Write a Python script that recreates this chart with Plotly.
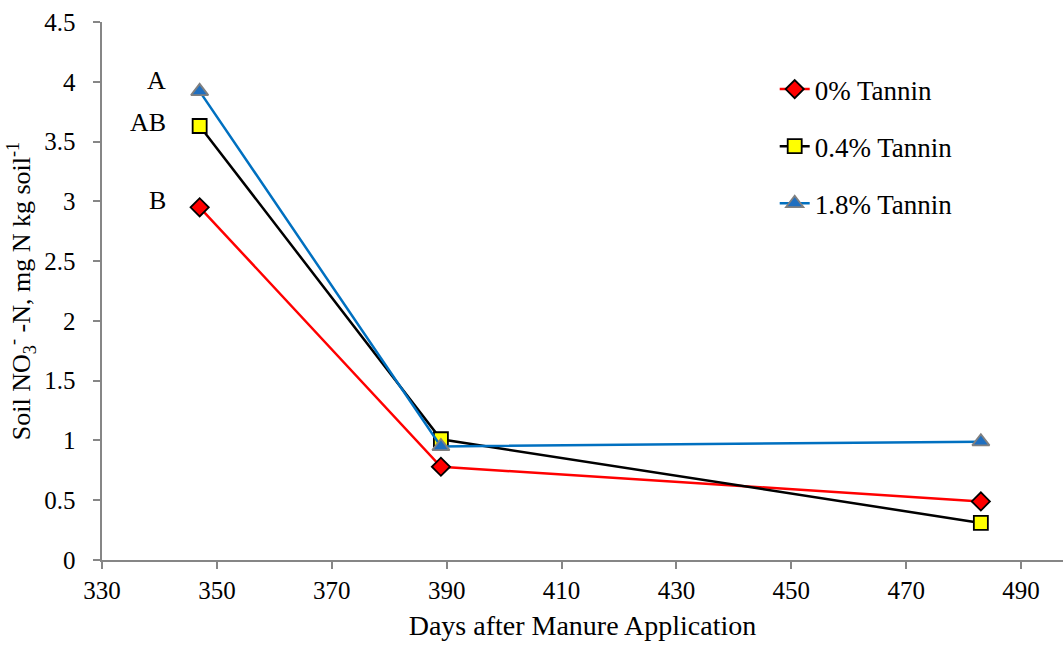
import plotly.graph_objects as go

days = [347, 389, 483]
tannin_0 = [2.95, 0.78, 0.49]
tannin_04 = [3.63, 1.01, 0.31]
tannin_18 = [3.92, 0.95, 0.99]
series_names = ["0% Tannin", "0.4% Tannin", "1.8% Tannin"]
letters = ["B", "AB", "A"]

FONT = "Liberation Serif"

fig = go.Figure()
fig.add_trace(go.Scatter(
    x=days, y=tannin_0, name=series_names[0], mode="lines+markers",
    line=dict(color="#FF0000", width=2.5),
    marker=dict(symbol="diamond", size=14, color="#FF0000", line=dict(color="#000000", width=1.8)),
    legendgroup="a"))
fig.add_trace(go.Scatter(
    x=days, y=tannin_04, name=series_names[1], mode="lines+markers",
    line=dict(color="#000000", width=2.5),
    marker=dict(symbol="square", size=14, color="#FFFF00", line=dict(color="#000000", width=1.8)),
    legendgroup="b"))
fig.add_trace(go.Scatter(
    x=days, y=tannin_18, name=series_names[2], mode="lines+markers",
    line=dict(color="#0070C0", width=2.5),
    marker=dict(symbol="triangle-up", size=15, color="#1F6FC0", line=dict(color="#808080", width=1.8)),
    legendgroup="c"))

first_vals = [tannin_0[0], tannin_04[0], tannin_18[0]]
yshifts = [7, 4, 11]
for lab, yv, ys in zip(letters, first_vals, yshifts):
    fig.add_annotation(x=days[0], y=yv, text=lab, showarrow=False,
                       xanchor="right", yanchor="middle", xshift=-32, yshift=ys,
                       font=dict(family=FONT, size=26, color="#000000"))

axis_common = dict(
    showline=True, linecolor="#868686", linewidth=2,
    ticks="outside", ticklen=7, tickwidth=2, tickcolor="#868686",
    showgrid=False, zeroline=False,
)

fig.update_layout(
    template="none",
    width=1063, height=647,
    margin=dict(l=102, r=0, t=22, b=87),
    paper_bgcolor="white", plot_bgcolor="white",
    font=dict(family=FONT, size=26, color="#000000"),
    xaxis=dict(range=[330, 497.3], dtick=20, tick0=330,
               title=dict(text="Days after Manure Application", font=dict(family=FONT, size=28), standoff=12),
               tickfont=dict(family=FONT, size=25, color="#000000"),
               **axis_common),
    yaxis=dict(range=[0, 4.5], dtick=0.5, tick0=0, ticksuffix="\u2002",
               title=dict(text="Soil NO<sub>3</sub><sup>-</sup> -N, mg N kg soil<sup>-1</sup>",
                          font=dict(family=FONT, size=26), standoff=6),
               tickfont=dict(family=FONT, size=25, color="#000000"),
               **axis_common),
    legend=dict(x=0.70, y=0.92, xanchor="left", yanchor="top",
                font=dict(family=FONT, size=27, color="#000000"),
                tracegroupgap=19, bgcolor="rgba(0,0,0,0)"),
    showlegend=True,
)

fig.write_html("out.html")
